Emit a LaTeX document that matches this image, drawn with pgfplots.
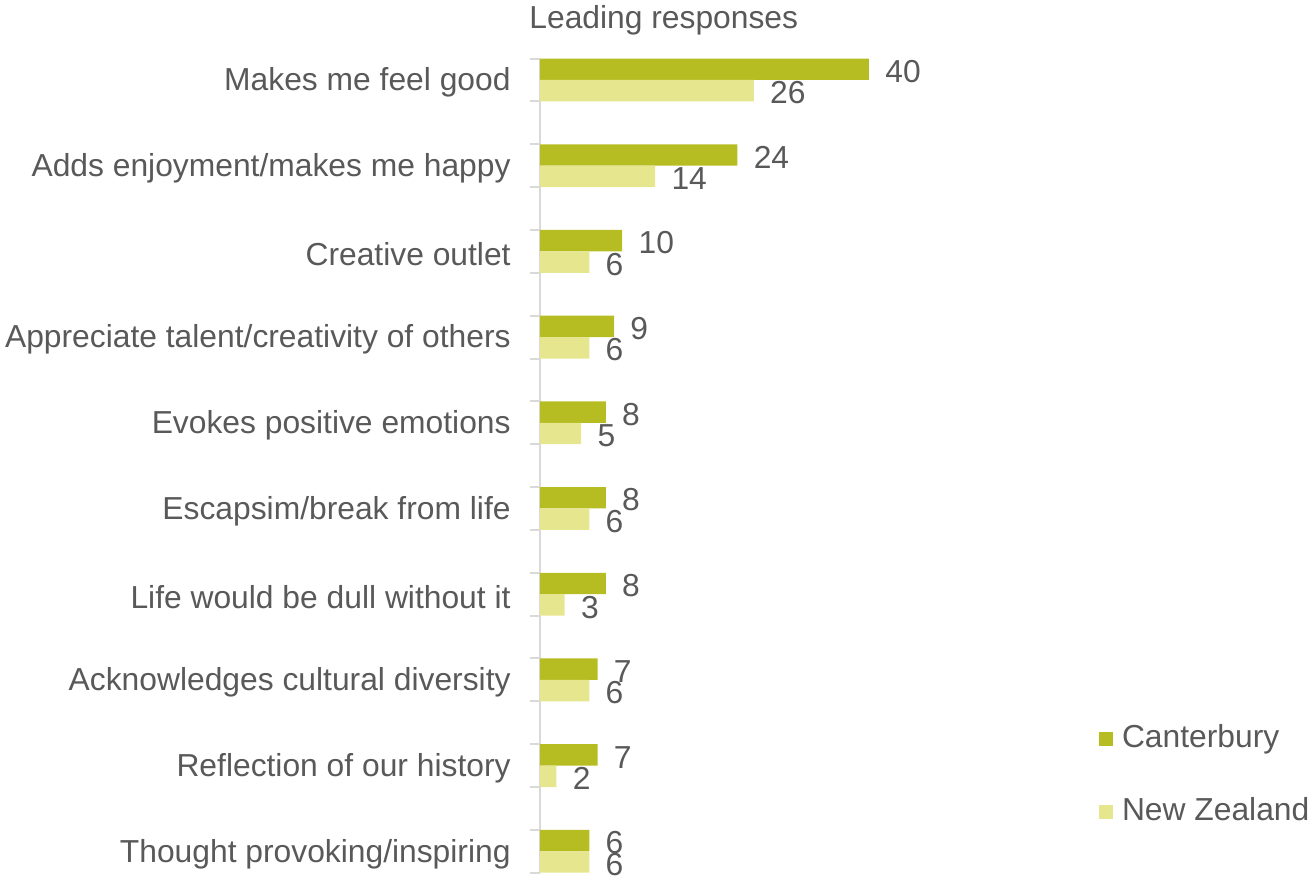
\documentclass[border=0pt]{standalone}
\usepackage{fontspec}
\setmainfont{Liberation Sans}
\usepackage{pgfplots}
\pgfplotsset{compat=1.18}
\definecolor{cant}{HTML}{B5BD22}
\definecolor{nz}{HTML}{E6E68F}
\definecolor{txt}{HTML}{595959}
\definecolor{axgray}{HTML}{D9D9D9}
\newcommand{\lblfont}{\fontsize{15.9pt}{19pt}\selectfont}
\begin{document}
\begin{tikzpicture}
\begin{axis}[
  at={(0,0)}, anchor=south west,
  scale only axis, width=205.625pt, height=407.08pt,
  xbar, bar width=0.25,
  xmin=0, xmax=50, ymin=-0.25, ymax=9.25, y dir=reverse,
  axis x line=none, axis y line*=left,
  axis line style={-, draw=axgray, line width=1pt},
  ytick={-0.25,0.25,0.75,1.25,1.75,2.25,2.75,3.25,3.75,4.25,4.75,5.25,5.75,6.25,6.75,7.25,7.75,8.25,8.75,9.25},
  yticklabels={},
  tick align=outside, major tick length=5pt,
  ytick style={draw=axgray, line width=1pt},
  extra y ticks={0,1,2,3,4,5,6,7,8,9},
  extra y tick labels={Makes me feel good,Adds enjoyment/makes me happy,Creative outlet,Appreciate talent/creativity of others,Evokes positive emotions,Escapsim/break from life,Life would be dull without it,Acknowledges cultural diversity,Reflection of our history,Thought provoking/inspiring},
  extra y tick style={major tick length=0pt, tick style={draw=none},
    yticklabel style={inner sep=0pt, xshift=-14.5pt, yshift=-1.3pt, font=\lblfont, text=txt, anchor=east}},
  /pgf/number format/assume math mode=true,
  nodes near coords,
  every node near coord/.append style={anchor=west, inner sep=0pt, xshift=8pt, yshift=-1.1pt, font=\lblfont, text=txt},
  clip=false,
  legend style={at={(axis description cs:1.3593,0.1193)}, anchor=west, draw=none, fill=none,
    inner sep=0pt, outer sep=0pt, row sep=21.5pt, column sep=4.5pt,
    font=\lblfont, text=txt,
    nodes={inner sep=0pt, text height=11.5pt, text depth=3.5pt}},
  legend cell align=left,
  legend image code/.code={\fill[#1] (0pt,-3.5pt) rectangle (7pt,3.5pt);},
]
\addplot[fill=cant, draw=none, bar shift=-0.125] coordinates {
  (40,0) (24,1) (10,2) (9,3) (8,4) (8,5) (8,6) (7,7) (7,8) (6,9)};
\addlegendentry{Canterbury}
\addplot[fill=nz, draw=none, bar shift=0.125] coordinates {
  (26,0) (14,1) (6,2) (6,3) (5,4) (6,5) (3,6) (6,7) (2,8) (6,9)};
\addlegendentry{New Zealand}
\end{axis}
\node[anchor=west, inner sep=0pt, font=\lblfont, text=txt] at (-5.5pt,426.4pt) {Leading responses};
\pgfresetboundingbox
\path[use as bounding box] (-270pt,-1.65pt) rectangle (384.5pt,436.35pt);
\end{tikzpicture}
\end{document}
